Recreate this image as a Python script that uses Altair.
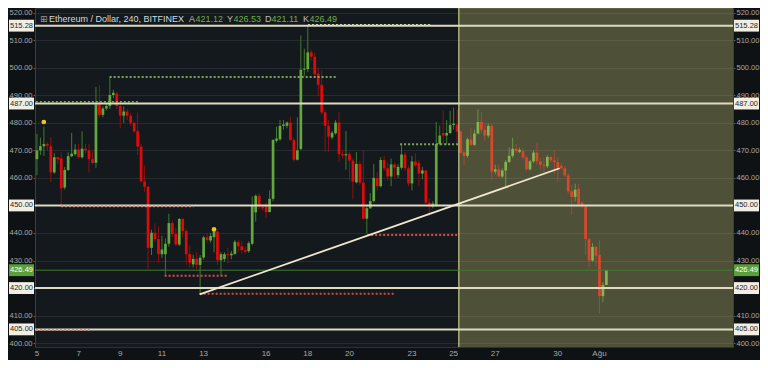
import altair as alt
import pandas as pd

# ---------------- data ----------------
opens = [466.8, 470.0, 471.5, 472.3, 471.5, 462.0, 467.5, 467.1, 456.5, 462.9,
         467.9, 468.6, 470.3, 467.5, 470.6, 470.0, 466.8, 465.5, 487.0, 482.9,
         485.2, 486.1, 490.1, 490.6, 486.1, 482.6, 484.1, 482.6, 480.0, 477.0,
         471.4, 458.7, 456.8, 434.6, 440.1, 437.8, 432.3, 432.3, 436.1, 443.6,
         439.6, 435.8, 445.1, 440.7, 432.3, 428.6, 430.6, 428.4, 431.1, 438.4,
         437.3, 438.5, 440.5, 430.1, 430.5, 432.3, 431.9, 432.4, 436.7, 435.2,
         433.8, 433.4, 436.1, 447.5, 453.5, 449.6, 450.1, 447.6, 452.4, 473.5,
         474.0, 478.9, 478.9, 480.1, 473.8, 466.6, 470.5, 499.3, 499.5, 505.6,
         504.0, 497.8, 493.8, 483.8, 478.9, 474.7, 476.2, 480.1, 468.6, 468.2,
         468.6, 466.3, 458.4, 465.1, 458.3, 445.2, 449.0, 451.6, 460.0, 457.0,
         466.5, 463.5, 460.5, 464.9, 461.0, 463.7, 468.5, 463.5, 458.0, 466.0,
         465.4, 461.6, 462.7, 451.0, 449.6, 449.9, 472.3, 476.3, 475.4, 476.3,
         479.2, 479.4, 476.8, 469.3, 468.0, 474.0, 472.0, 476.1, 480.3, 477.5,
         475.4, 478.9, 462.3, 463.1, 460.5, 462.7, 465.8, 468.0, 470.6, 469.5,
         469.7, 467.4, 463.1, 466.0, 469.2, 466.0, 464.8, 464.2, 467.6, 466.4,
         465.7, 464.4, 463.5, 460.9, 455.1, 453.1, 456.0, 451.0, 449.6, 437.8,
         430.0, 434.9, 432.1, 417.1, 421.12]
highs = [476.0, 474.6, 478.6, 473.0, 474.8, 469.0, 467.8, 469.3, 464.0, 469.3,
         476.3, 472.3, 472.3, 476.9, 472.3, 472.3, 469.7, 493.0, 493.6, 486.0,
         487.0, 496.5, 492.0, 491.3, 487.0, 486.0, 485.0, 483.5, 480.5, 483.8,
         472.3, 464.5, 457.0, 441.2, 443.5, 442.4, 439.0, 438.0, 447.0, 444.5,
         442.0, 445.4, 445.4, 441.3, 435.5, 432.1, 433.0, 432.0, 439.0, 440.0,
         440.0, 442.0, 441.0, 433.0, 433.0, 434.5, 433.5, 437.5, 437.5, 437.0,
         435.0, 437.0, 453.3, 454.0, 454.5, 450.5, 451.0, 455.5, 474.0, 478.6,
         481.0, 481.0, 480.5, 482.3, 474.6, 482.0, 511.7, 506.9, 515.3, 506.5,
         505.5, 500.0, 499.0, 484.5, 481.0, 477.0, 481.0, 484.1, 470.0, 477.0,
         469.5, 467.0, 469.4, 466.0, 470.0, 450.0, 454.5, 465.0, 462.0, 467.5,
         468.0, 465.7, 467.0, 465.5, 465.0, 472.0, 469.5, 464.5, 468.0, 469.0,
         466.5, 464.0, 463.0, 452.5, 451.5, 480.3, 479.0, 484.4, 481.0, 484.4,
         485.5, 484.9, 477.3, 469.8, 474.6, 478.0, 477.5, 484.9, 483.8, 479.7,
         479.7, 479.7, 464.8, 464.8, 463.5, 466.5, 471.0, 474.6, 472.3, 471.0,
         470.6, 468.2, 466.6, 470.0, 472.6, 467.2, 467.2, 468.2, 468.0, 470.0,
         467.6, 465.3, 464.4, 461.8, 457.4, 457.9, 457.9, 451.6, 450.0, 438.4,
         436.3, 435.4, 437.3, 422.2, 426.53]
lows = [461.0, 468.3, 468.0, 470.0, 458.5, 461.5, 465.0, 450.0, 455.8, 462.5,
        467.5, 468.0, 467.0, 467.0, 469.0, 462.0, 465.0, 463.7, 482.0, 482.0,
        484.5, 485.0, 489.0, 485.0, 478.0, 480.0, 481.0, 479.0, 476.5, 468.3,
        458.4, 455.0, 427.0, 432.0, 436.7, 429.2, 431.0, 424.6, 435.0, 438.5,
        435.3, 435.3, 438.5, 428.5, 427.5, 427.5, 426.9, 417.7, 430.3, 436.5,
        436.5, 433.0, 428.5, 424.6, 429.5, 429.0, 430.5, 432.0, 433.0, 432.5,
        432.5, 432.8, 435.5, 444.1, 448.5, 448.0, 445.5, 447.5, 451.5, 472.8,
        473.5, 477.5, 478.0, 473.5, 466.0, 466.3, 470.0, 497.0, 498.5, 502.5,
        496.5, 489.6, 483.0, 469.4, 469.4, 474.0, 475.7, 465.9, 467.0, 463.0,
        459.1, 452.2, 458.0, 457.5, 445.0, 439.8, 448.7, 451.0, 455.5, 456.5,
        462.5, 459.0, 457.0, 460.0, 460.0, 463.0, 462.5, 457.0, 455.5, 464.0,
        457.0, 459.5, 450.5, 446.2, 449.0, 449.5, 471.8, 472.3, 472.0, 475.9,
        477.5, 472.3, 468.8, 464.6, 467.3, 471.6, 471.6, 475.9, 476.3, 473.5,
        474.6, 459.1, 461.3, 460.3, 460.0, 456.8, 465.5, 467.2, 469.0, 469.0,
        466.6, 462.7, 462.7, 465.5, 464.8, 463.0, 462.0, 463.6, 465.5, 461.5,
        458.6, 463.0, 460.3, 454.2, 446.7, 451.5, 450.0, 449.2, 432.0, 427.5,
        429.5, 428.0, 410.8, 415.0, 421.11]
closes = [470.0, 471.5, 472.3, 471.7, 462.0, 467.5, 466.8, 456.2, 462.9, 467.9,
          468.8, 470.3, 467.5, 470.6, 470.0, 466.8, 465.4, 486.7, 482.9, 485.2,
          486.1, 490.1, 490.9, 486.1, 482.6, 484.1, 482.6, 480.0, 476.9, 471.4,
          458.7, 456.8, 434.6, 440.1, 437.8, 432.3, 434.0, 436.1, 443.6, 439.6,
          435.8, 445.1, 440.7, 432.3, 429.2, 430.6, 428.4, 431.0, 438.4, 437.5,
          438.9, 440.5, 430.1, 432.3, 432.3, 431.9, 432.5, 436.8, 435.2, 433.8,
          433.2, 436.3, 450.1, 453.5, 449.6, 449.0, 447.6, 452.4, 473.8, 474.3,
          478.9, 479.4, 480.1, 473.8, 466.6, 470.0, 499.3, 499.5, 505.6, 504.0,
          497.6, 493.8, 483.8, 478.9, 475.0, 476.4, 480.1, 468.6, 468.2, 468.6,
          466.3, 458.6, 465.1, 458.3, 445.2, 449.0, 451.6, 460.0, 457.0, 466.5,
          463.5, 460.5, 464.9, 463.7, 464.0, 468.5, 463.5, 458.0, 466.0, 464.6,
          461.6, 462.7, 451.0, 449.6, 450.7, 472.3, 475.4, 475.4, 476.3, 479.2,
          479.7, 476.8, 469.1, 468.0, 474.0, 472.0, 476.1, 480.3, 477.5, 475.4,
          478.9, 462.3, 463.1, 460.5, 462.7, 465.8, 468.0, 470.6, 469.7, 470.2,
          467.4, 463.1, 466.0, 469.2, 466.0, 464.8, 464.4, 467.6, 466.4, 465.8,
          463.8, 463.5, 460.9, 455.1, 453.1, 455.7, 450.5, 449.6, 437.8, 430.0,
          434.9, 431.8, 417.1, 421.1, 426.49]

first_day = 5          # 5 July, candles every 4 hours (6 per day)
per_day = 6

tick_days = [5, 7, 9, 11, 13, 16, 18, 20, 23, 25, 27, 30, 32]
tick_labels = ["5", "7", "9", "11", "13", "16", "18", "20", "23", "25", "27", "30", "Ağu"]
price_ticks = [400, 410, 420, 430, 440, 450, 460, 470, 480, 490, 500, 510, 520]

level_prices = [515.28, 487.00, 450.00, 420.00, 405.00]
current_price = 426.49

dot_start = [4.95, 8.49, 18.01, 6.16, 11.13, 12.81, 20.85, 4.95, 22.43]
dot_end = [9.88, 19.40, 23.91, 12.53, 14.20, 22.19, 25.21, 7.56, 25.21]
dot_price = [487.6, 496.6, 515.5, 449.7, 424.5, 417.9, 439.3, 404.8, 472.2]
dot_kind = ["sup", "sup", "top", "res", "low", "low", "low", "res", "sup"]

trend_days = [12.81, 30.09]
trend_prices = [417.7, 463.5]

marker_days = [5.33, 13.5]
marker_prices = [480.3, 441.3]

shade_start = 25.25

header_symbol = "Ethereum / Dollar, 240, BITFINEX"
ohlc_letters = ["A", "Y", "D", "K"]
ohlc_values = ["421.12", "426.53", "421.11", "426.49"]

# ---------------- layout / style ----------------
PL, PR, PT, PB = 27, 27, 0, 13
W, H = 752 - PL - PR, 352 - PT - PB
x_dom = [4.907, 38.41]
y_dom = [398.6, 521.7]
xs = alt.Scale(domain=x_dom, nice=False, zero=False)
ys = alt.Scale(domain=y_dom, nice=False, zero=False)

FONT = "Liberation Sans"
GRID = "#262b30"
LABEL = "#a9a9a2"
AX_FS = 7.5

df = pd.DataFrame({"open": opens, "high": highs, "low": lows, "close": closes})
df["day"] = [first_day + i / per_day for i in range(len(df))]
df["btop"] = df[["open", "close"]].max(axis=1)
df["bbot"] = df[["open", "close"]].min(axis=1)
df["btop"] = df[["btop", "bbot"]].apply(lambda r: max(r["btop"], r["bbot"] + 0.35), axis=1)

up_cond = "datum.close >= datum.open"

wicks = alt.Chart(df).mark_rule(strokeWidth=1).encode(
    x=alt.X("day:Q", scale=xs,
            axis=alt.Axis(values=tick_days, labels=False, title=None, grid=True,
                          gridColor=GRID, tickSize=2, tickColor="#555a5f",
                          domainColor="#3a3f44", orient="bottom")),
    y=alt.Y("low:Q", scale=ys,
            axis=alt.Axis(values=price_ticks, format=".2f", title=None, orient="left",
                          grid=True, gridColor=GRID, labelColor=LABEL, labelFontSize=AX_FS,
                          labelFont=FONT, tickSize=2, tickColor="#555a5f",
                          domainColor="#3a3f44", labelPadding=1, labelOverlap=False)),
    y2="high:Q",
    color=alt.condition(up_cond, alt.value("#3f7a2c"), alt.value("#8f1010")),
)

bodies = alt.Chart(df).mark_rule(strokeWidth=2.7, strokeCap="butt").encode(
    x=alt.X("day:Q", scale=xs, axis=None),
    y=alt.Y("bbot:Q", scale=ys, axis=None),
    y2="btop:Q",
    color=alt.condition(up_cond, alt.value("#62a83e"), alt.value("#e00a0a")),
)

shade_df = pd.DataFrame({"x0": [shade_start], "x1": [x_dom[1]]})
shade = alt.Chart(shade_df).mark_rect(color="#d6d477", opacity=0.3).encode(
    x=alt.X("x0:Q", scale=xs, axis=None), x2="x1:Q",
    y=alt.value(0), y2=alt.value(H),
)
shade_edge = alt.Chart(shade_df).mark_rule(color="#c9ca86", strokeWidth=1.2).encode(
    x=alt.X("x0:Q", scale=xs, axis=None), y=alt.value(0), y2=alt.value(H),
)

lv_df = pd.DataFrame({"price": level_prices})
levels = alt.Chart(lv_df).mark_rule(color="#dedbc2", strokeWidth=2).encode(
    y=alt.Y("price:Q", scale=ys,
            axis=alt.Axis(values=price_ticks, format=".2f", title=None, orient="right",
                          grid=False, labelColor=LABEL, labelFontSize=AX_FS, labelFont=FONT,
                          tickSize=2, tickColor="#555a5f", domainColor="#3a3f44",
                          labelPadding=1, labelOverlap=False)),
    x=alt.value(0), x2=alt.value(W),
)

cur_df = pd.DataFrame({"price": [current_price]})
cur_line = alt.Chart(cur_df).mark_rule(color="#3f7f2a", strokeWidth=1).encode(
    y=alt.Y("price:Q", scale=ys, axis=None), x=alt.value(0), x2=alt.value(W),
)

dot_df = pd.DataFrame({"s": dot_start, "e": dot_end, "price": dot_price, "kind": dot_kind})
dotted = alt.Chart(dot_df).mark_rule(strokeDash=[2, 2], strokeWidth=2).encode(
    x=alt.X("s:Q", scale=xs, axis=None), x2="e:Q",
    y=alt.Y("price:Q", scale=ys, axis=None),
    color=alt.Color("kind:N", legend=None,
                    scale=alt.Scale(domain=["sup", "top", "res", "low"],
                                    range=["#7da35a", "#c9d6b4", "#d98a7e", "#d94a45"])),
)

tr_df = pd.DataFrame({"day": trend_days, "price": trend_prices})
trend = alt.Chart(tr_df).mark_line(color="#efe8cc", strokeWidth=1.8).encode(
    x=alt.X("day:Q", scale=xs, axis=None), y=alt.Y("price:Q", scale=ys, axis=None),
)

mk_df = pd.DataFrame({"day": marker_days, "price": marker_prices})
markers = alt.Chart(mk_df).mark_circle(size=22, color="#f2c414", opacity=1).encode(
    x=alt.X("day:Q", scale=xs, axis=None), y=alt.Y("price:Q", scale=ys, axis=None),
)

# x tick labels drawn as text through the x scale
tk_df = pd.DataFrame({"day": tick_days, "label": tick_labels})
xlabels = alt.Chart(tk_df).mark_text(
    fontSize=AX_FS + 0.5, font=FONT, color=LABEL, align="center", baseline="top"
).encode(x=alt.X("day:Q", scale=xs, axis=None), y=alt.value(H + 3), text="label:N")

box_df = pd.DataFrame({
    "price": level_prices + [current_price],
    "kind": ["level"] * len(level_prices) + ["current"],
})
box_df["label"] = box_df["price"].map(lambda v: f"{v:.2f}")
box_df["hi"] = box_df["price"] + 2.15
box_df["lo"] = box_df["price"] - 2.15
is_level = "datum.kind == 'level'"


def side_boxes(xa, xb, xt):
    rect = alt.Chart(box_df).mark_rect().encode(
        y=alt.Y("lo:Q", scale=ys, axis=None), y2="hi:Q",
        x=alt.value(xa), x2=alt.value(xb),
        color=alt.condition(is_level, alt.value("#f1efe4"), alt.value("#5b9f3b")),
    )
    txt = alt.Chart(box_df).mark_text(fontSize=AX_FS, font=FONT, align="center",
                                      baseline="middle").encode(
        y=alt.Y("price:Q", scale=ys, axis=None), x=alt.value(xt), text="label:N",
        color=alt.condition(is_level, alt.value("#1e1e1e"), alt.value("#ffffff")),
    )
    return rect + txt


left_boxes = side_boxes(-PL + 1, -1, -PL / 2)
right_boxes = side_boxes(W + 1, W + PR - 1, W + PR / 2)

hdr_y = 10.5
HF = 9
header = [
    alt.Chart(pd.DataFrame({"t": ["⊞"]})).mark_text(
        font="DejaVu Sans", fontSize=9, color="#9a9a9a", align="left", baseline="middle"
    ).encode(x=alt.value(5), y=alt.value(hdr_y), text="t:N"),
    alt.Chart(pd.DataFrame({"t": [header_symbol]})).mark_text(
        font=FONT, fontSize=HF, color="#d8d8d8", align="left", baseline="middle"
    ).encode(x=alt.value(14), y=alt.value(hdr_y), text="t:N"),
]
letter_x = [154, 192, 230, 268]
for lx, letter, val in zip(letter_x, ohlc_letters, ohlc_values):
    header.append(alt.Chart(pd.DataFrame({"t": [letter]})).mark_text(
        font=FONT, fontSize=HF, color="#bdbdbd", align="left", baseline="middle"
    ).encode(x=alt.value(lx), y=alt.value(hdr_y), text="t:N"))
    header.append(alt.Chart(pd.DataFrame({"t": [val]})).mark_text(
        font=FONT, fontSize=HF, color="#6fae4b", align="left", baseline="middle"
    ).encode(x=alt.value(lx + 6.5), y=alt.value(hdr_y), text="t:N"))

chart = alt.layer(
    wicks, bodies, shade, shade_edge, levels, cur_line, dotted, trend, markers,
    xlabels, left_boxes, right_boxes, *header
).resolve_axis(y="independent").properties(
    width=W, height=H,
    autosize=alt.AutoSizeParams(type="none"),
    padding={"left": PL, "right": PR, "top": PT, "bottom": PB},
    background="#0f1215",
).configure_view(fill="#14191d", stroke="#2d3237")

chart.save("out.html", embed_options={"renderer": "svg", "actions": False})
